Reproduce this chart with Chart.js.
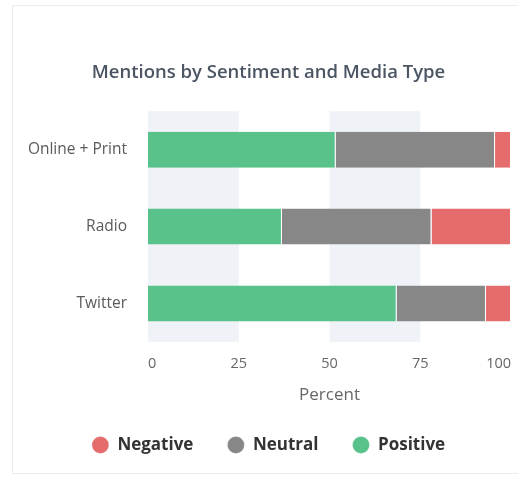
<!DOCTYPE html>
<html>
<head>
<meta charset="utf-8">
<script src="https://cdn.jsdelivr.net/npm/chart.js@4"></script>
<style>
  html, body { margin: 0; padding: 0; background: #ffffff; overflow: hidden; width: 518px; height: 483px; }
  #card { position: absolute; left: 12px; top: 5px; width: 540px; height: 467px;
          border-top: 1px solid #ececec; border-left: 1px solid #ececec; border-bottom: 1px solid #ececec;
          background: #ffffff; }
  #c { position: absolute; left: 0; top: 0; }
</style>
</head>
<body>
<div id="card"><canvas id="c" width="505" height="466"></canvas></div>
<script>
const categories = ['Online + Print', 'Radio', 'Twitter'];
const positiveValues = [51.7, 36.9, 68.5];
const neutralValues = [43.9, 41.2, 24.6];
const negativeValues = [4.4, 21.9, 6.9];
const xTickValues = [0, 25, 50, 75, 100];
const shadedBands = [[0, 25], [50, 75]];

const bandPlugin = {
  id: 'bands',
  beforeDatasetsDraw(chart) {
    const { ctx, chartArea, scales } = chart;
    const x = scales.x;
    ctx.save();
    ctx.fillStyle = '#eff2f6';
    for (const [a, b] of shadedBands) {
      const x0 = x.getPixelForValue(a);
      const x1 = x.getPixelForValue(b);
      ctx.fillRect(x0, chartArea.top, x1 - x0, chartArea.bottom - chartArea.top);
    }
    ctx.restore();
  }
};

const segBorder = { top: 0, bottom: 0, left: 0, right: 1 };

new Chart(document.getElementById('c'), {
  type: 'bar',
  data: {
    labels: categories,
    datasets: [
      { label: 'Positive', data: positiveValues, backgroundColor: '#58c28a', borderColor: '#ffffff', borderWidth: segBorder, borderSkipped: false },
      { label: 'Neutral', data: neutralValues, backgroundColor: '#878787', borderColor: '#ffffff', borderWidth: segBorder, borderSkipped: false },
      { label: 'Negative', data: negativeValues, backgroundColor: '#e46c6c', borderColor: '#ffffff', borderWidth: segBorder, borderSkipped: false }
    ]
  },
  plugins: [bandPlugin],
  options: {
    indexAxis: 'y',
    responsive: false,
    animation: false,
    devicePixelRatio: 1,
    layout: { padding: { left: 13, right: 7, top: 0, bottom: 8.5 } },
    datasets: { bar: { barPercentage: 0.468, categoryPercentage: 1 } },
    scales: {
      x: {
        stacked: true,
        min: 0,
        max: 100,
        afterBuildTicks(scale) { scale.ticks = xTickValues.map(v => ({ value: v })); },
        afterFit(scale) { scale.height = 60.5; scale.paddingLeft = 0; scale.paddingRight = 0; },
        grid: { display: false, drawTicks: false },
        border: { display: false },
        ticks: { align: 'inner', padding: 13.5, color: '#666666', font: { family: 'Open Sans', size: 14.5 } },
        title: { display: true, text: 'Percent', color: '#666666', padding: { top: 0, bottom: -3 }, font: { family: 'Open Sans', size: 17 } }
      },
      y: {
        stacked: true,
        afterFit(scale) { scale.width = 122; },
        grid: { display: false, drawTicks: false },
        border: { display: false },
        ticks: { padding: 21, color: '#5a5a5a', font: { family: 'Open Sans', size: 15.5 } }
      }
    },
    plugins: {
      title: {
        display: true,
        text: 'Mentions by Sentiment and Media Type',
        color: '#4b5563',
        font: { family: 'Open Sans', size: 18.5, weight: '600' },
        padding: { top: 55.5, bottom: 27.5 }
      },
      legend: {
        position: 'bottom',
        reverse: true,
        labels: {
          usePointStyle: true,
          pointStyle: 'circle',
          pointStyleWidth: 17,
          boxHeight: 12,
          padding: 34,
          color: '#333333',
          font: { family: 'Open Sans', size: 17, weight: 'bold' }
        }
      },
      tooltip: { enabled: false }
    }
  }
});
</script>
</body>
</html>
